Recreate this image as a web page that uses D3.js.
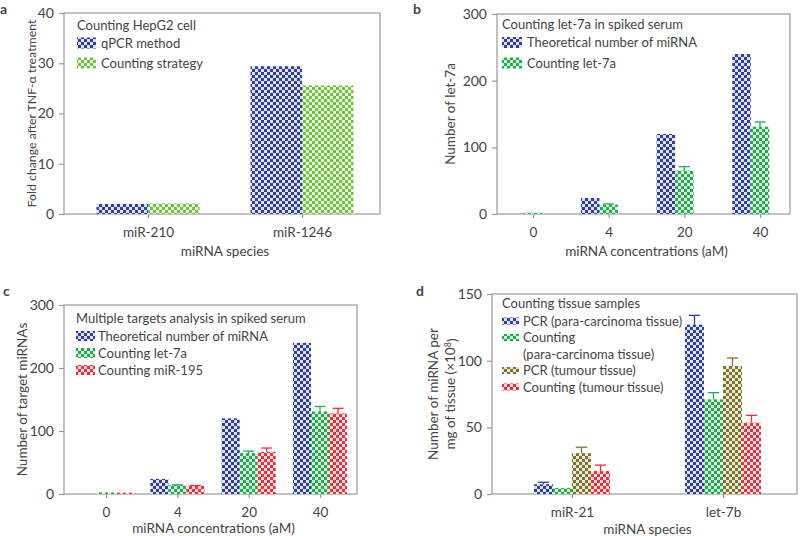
<!DOCTYPE html>
<html><head><meta charset="utf-8">
<script src="https://cdn.jsdelivr.net/npm/d3@7"></script>
<style>
body{margin:0;background:#fff;}
text{font-family:Lato,"Open Sans",sans-serif;fill:#444;}
</style></head>
<body>
<svg id="chart" width="800" height="536"></svg>
<script>
// ---- data ----
const aCategories = ["miR-210", "miR-1246"];
const aQpcr = [2.0, 29.4];
const aCounting = [2.1, 25.6];
const aTicks = [0, 10, 20, 30, 40];

const bCategories = ["0", "4", "20", "40"];
const bTheoretical = [0, 24, 120, 240];
const bCountLet7a = [2, 14, 65, 131];
const bCountLet7aErr = [0, 1, 6, 7];
const bTicks = [0, 100, 200, 300];

const cCategories = ["0", "4", "20", "40"];
const cTheoretical = [0, 24, 120, 240];
const cCountLet7a = [2.5, 14, 65, 131];
const cCountLet7aErr = [0, 0.5, 3, 8];
const cCountMiR195 = [2, 13, 67, 128];
const cCountMiR195Err = [0, 0.5, 6, 8];
const cTicks = [0, 100, 200, 300];

const dCategories = ["miR-21", "let-7b"];
const dPcrPara = [7.3, 127];
const dPcrParaErr = [1.5, 7];
const dCountPara = [4.5, 71];
const dCountParaErr = [0, 5];
const dPcrTumour = [30.6, 96];
const dPcrTumourErr = [4.5, 6];
const dCountTumour = [17.2, 53.5];
const dCountTumourErr = [4.5, 5.5];
const dTicks = [0, 50, 100, 150];

// ---- colours / patterns ----
const COLORS = {blue: "#2e3f9c", lime: "#74c043", green: "#1fae4a", red: "#ec2f3a", olive: "#7e7228"};
const svg = d3.select("#chart");
const defs = svg.append("defs");
Object.entries(COLORS).forEach(([k, c]) => {
  const p = defs.append("pattern").attr("id", "pat-" + k)
    .attr("patternUnits", "userSpaceOnUse").attr("width", 6).attr("height", 6);
  p.append("rect").attr("width", 6).attr("height", 6).attr("fill", c);
  p.append("rect").attr("x", 0).attr("y", 0).attr("width", 3).attr("height", 3).attr("fill", "#fff").attr("opacity", 0.85);
  p.append("rect").attr("x", 3).attr("y", 3).attr("width", 3).attr("height", 3).attr("fill", "#fff").attr("opacity", 0.85);
});

const FRAME = "#9a9a9a";
const FS_TICK = "14px", FS_CAT = "13.5px", FS_TITLE = "13.5px", FS_LEG = "13px";

function panel(cfg) {
  const g = svg.append("g");
  const [x0, x1] = cfg.xRange, [yb, yt] = cfg.yRange;
  const y = d3.scaleLinear().domain([0, cfg.ticks[cfg.ticks.length - 1]]).range([yb, yt]);
  const x = d3.scalePoint().domain(cfg.categories).range(cfg.catRange);

  g.append("rect").attr("x", x0).attr("y", yt).attr("width", x1 - x0).attr("height", yb - yt)
    .attr("fill", "none").attr("stroke", FRAME).attr("stroke-width", 1.2);

  const ya = g.append("g").attr("transform", `translate(${x0},0)`)
    .call(d3.axisLeft(y).tickValues(cfg.ticks).tickSize(5).tickPadding(5).tickFormat(d3.format("d")));
  ya.select(".domain").remove();
  ya.selectAll("line").attr("stroke", FRAME).attr("stroke-width", 1.2);
  ya.selectAll("text").style("font-size", FS_TICK).style("font-family", "Lato, sans-serif").attr("fill", "#444");

  const xa = g.append("g").attr("transform", `translate(0,${yb})`)
    .call(d3.axisBottom(x).tickSize(4).tickPadding(9));
  xa.select(".domain").remove();
  xa.selectAll("line").attr("stroke", FRAME).attr("stroke-width", 1.2);
  xa.selectAll("text").style("font-size", FS_CAT).style("font-family", "Lato, sans-serif").attr("fill", "#444");

  cfg.series.forEach((s, si) => {
    const off = cfg.offsets[si];
    s.values.forEach((v, i) => {
      const cx = x(cfg.categories[i]) + off * cfg.bw;
      if (v > 0) {
        g.append("rect").attr("x", cx).attr("y", y(v)).attr("width", cfg.bw).attr("height", yb - y(v))
          .attr("fill", `url(#pat-${s.color})`);
      }
      if (s.err && s.err[i] > 0) {
        const mx = cx + cfg.bw / 2, top = y(v + s.err[i]);
        g.append("line").attr("x1", mx).attr("x2", mx).attr("y1", y(v)).attr("y2", top)
          .attr("stroke", COLORS[s.color]).attr("stroke-width", 1.3);
        g.append("line").attr("x1", mx - cfg.bw * 0.3).attr("x2", mx + cfg.bw * 0.3).attr("y1", top).attr("y2", top)
          .attr("stroke", COLORS[s.color]).attr("stroke-width", 1.3);
      }
    });
  });

  const L = cfg.legend;
  g.append("text").attr("x", L.x).attr("y", L.titleY).attr("dy", "0.35em").style("font-size", FS_LEG).text(L.title);
  let ry = L.firstY;
  cfg.series.forEach((s) => {
    g.append("rect").attr("x", L.x).attr("y", ry - L.sh / 2).attr("width", L.sw).attr("height", L.sh)
      .attr("fill", `url(#pat-${s.color})`);
    s.label.forEach((line, li) => {
      g.append("text").attr("x", L.x + L.sw + L.gap).attr("y", ry + li * L.step).attr("dy", "0.35em")
        .style("font-size", FS_LEG).text(line);
    });
    ry += L.step * s.label.length;
  });

  g.append("text").attr("x", (x0 + x1) / 2 + 3).attr("y", cfg.xTitleY).attr("dy", "0.35em")
    .attr("text-anchor", "middle").style("font-size", FS_TITLE).text(cfg.xTitle);
  cfg.yTitle.forEach((t, i) => {
    const tx = g.append("text").attr("transform", `translate(${cfg.yTitleX[i]},${(yb + yt) / 2}) rotate(-90)`)
      .attr("text-anchor", "middle").attr("dy", "0.35em").style("font-size", cfg.yTitleSize || FS_TITLE);
    if (Array.isArray(t)) {
      t.forEach(part => {
        const ts = tx.append("tspan").text(part.t);
        if (part.sup) ts.attr("dy", "-0.4em").style("font-size", "9px");
        if (part.after) ts.attr("dy", "0.4em");
      });
    } else tx.text(t);
  });

  g.append("text").attr("x", cfg.letter[0]).attr("y", cfg.letter[1]).attr("dy", "0.35em")
    .style("font-size", "14px").style("font-weight", "bold").attr("fill", "#222").text(cfg.letter[2]);
}

panel({
  xRange: [64, 380], yRange: [214, 13], catRange: [148, 302], ticks: aTicks, categories: aCategories, bw: 51.5,
  offsets: [-1, 0],
  series: [
    {values: aQpcr, color: "blue", label: ["qPCR method"]},
    {values: aCounting, color: "lime", label: ["Counting strategy"]}
  ],
  legend: {x: 77, title: "Counting HepG2 cell", titleY: 25, firstY: 43, step: 20, sw: 19, sh: 11, gap: 5},
  xTitle: "miRNA species", xTitleY: 251,
  yTitle: ["Fold change after TNF-α treatment"], yTitleX: [32], yTitleSize: "12.3px",
  letter: [0, 9, "a"]
});

panel({
  xRange: [497, 790], yRange: [214, 14], catRange: [533, 760], ticks: bTicks, categories: bCategories, bw: 18.5,
  offsets: [-1.5, -0.5],
  series: [
    {values: bTheoretical, color: "blue", label: ["Theoretical number of miRNA"]},
    {values: bCountLet7a, err: bCountLet7aErr, color: "green", label: ["Counting let-7a"]}
  ],
  legend: {x: 502, title: "Counting let-7a in spiked serum", titleY: 24, firstY: 42.5, step: 20.5, sw: 20, sh: 11, gap: 5},
  xTitle: "miRNA concentrations (aM)", xTitleY: 251,
  yTitle: ["Number of let-7a"], yTitleX: [450],
  letter: [413, 9, "b"]
});

panel({
  xRange: [64, 357], yRange: [494, 305], catRange: [106, 320], ticks: cTicks, categories: cCategories, bw: 18,
  offsets: [-1.5, -0.5, 0.5],
  series: [
    {values: cTheoretical, color: "blue", label: ["Theoretical number of miRNA"]},
    {values: cCountLet7a, err: cCountLet7aErr, color: "green", label: ["Counting let-7a"]},
    {values: cCountMiR195, err: cCountMiR195Err, color: "red", label: ["Counting miR-195"]}
  ],
  legend: {x: 76, title: "Multiple targets analysis in spiked serum", titleY: 318, firstY: 336, step: 17, sw: 19, sh: 10, gap: 3},
  xTitle: "miRNA concentrations (aM)", xTitleY: 528,
  yTitle: ["Number of target miRNAs"], yTitleX: [22],
  letter: [3, 291, "c"]
});

panel({
  xRange: [492, 797], yRange: [494, 294], catRange: [572, 723], ticks: dTicks, categories: dCategories, bw: 19,
  offsets: [-2, -1, 0, 1],
  series: [
    {values: dPcrPara, err: dPcrParaErr, color: "blue", label: ["PCR (para-carcinoma tissue)"]},
    {values: dCountPara, err: dCountParaErr, color: "green", label: ["Counting", "(para-carcinoma tissue)"]},
    {values: dPcrTumour, err: dPcrTumourErr, color: "olive", label: ["PCR (tumour tissue)"]},
    {values: dCountTumour, err: dCountTumourErr, color: "red", label: ["Counting (tumour tissue)"]}
  ],
  legend: {x: 502, title: "Counting tissue samples", titleY: 303, firstY: 321, step: 16.5, sw: 17, sh: 7, gap: 4},
  xTitle: "miRNA species", xTitleY: 529,
  yTitle: ["Number of miRNA per", [{t: "mg of tissue (×10"}, {t: "8", sup: true}, {t: ")", after: true}]], yTitleX: [433, 450],
  letter: [416, 291, "d"]
});
</script>
</body></html>
